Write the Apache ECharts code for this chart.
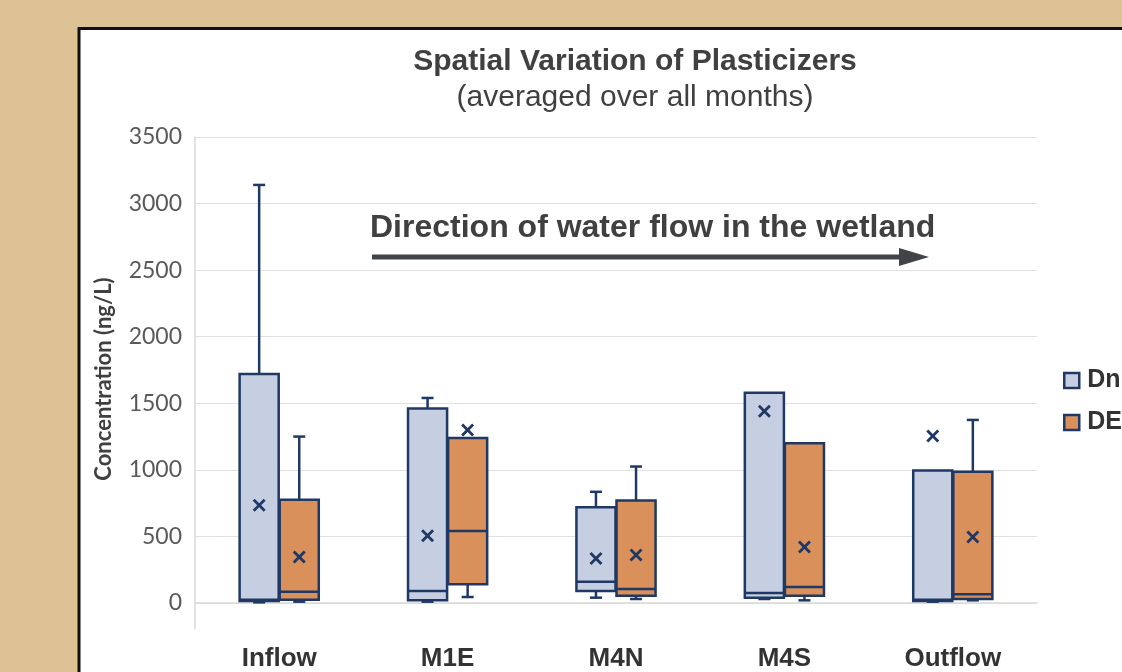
<!DOCTYPE html>
<html>
<head>
<meta charset="utf-8">
<script src="https://cdn.jsdelivr.net/npm/echarts@6/dist/echarts.min.js"></script>
<style>html,body{margin:0;padding:0;background:#dcc295;}#c{width:1122px;height:672px;}</style>
</head>
<body>
<div id="c"></div>
<script>
// ---- data ----
const categories = ['Inflow', 'M1E', 'M4N', 'M4S', 'Outflow'];
const seriesNames = ['DnBP', 'DEHP'];
// each row: [min, q1, median, q3, max, mean]
const dnbpStats = [
  [5, 15, 25, 1720, 3140, 735],
  [10, 20, 90, 1460, 1540, 505],
  [40, 90, 160, 720, 835, 335],
  [30, 40, 75, 1580, 1580, 1440],
  [10, 15, 25, 995, 995, 1255]
];
const dehpStats = [
  [10, 25, 85, 775, 1250, 345],
  [45, 140, 540, 1240, 1240, 1300],
  [30, 55, 105, 770, 1025, 360],
  [20, 55, 120, 1200, 1200, 420],
  [20, 30, 65, 985, 1375, 495]
];
const yTicks = { min: 0, max: 3500, interval: 500 };

// ---- styles ----
const NAVY = '#1f3864';
const FILLS = ['#c6cfe1', '#d9905a'];

function toRows(stats) { return stats.map((s, i) => [i].concat(s)); }

function renderBox(params, api) {
  const idx = api.value(0);
  const side = params.seriesIndex === 0 ? -1 : 1;
  const band = api.size([1, 0])[0];
  const bw = band * 0.232;
  const cx = api.coord([idx, 0])[0] + side * band * 0.119;
  const Y = v => api.coord([idx, v])[1];
  const mn = api.value(1), q1 = api.value(2), md = api.value(3), q3 = api.value(4), mx = api.value(5), mean = api.value(6);
  const line = { stroke: NAVY, lineWidth: 2.5 };
  const cap = 6;
  const ch = [];
  if (mx > q3) {
    ch.push({ type: 'line', shape: { x1: cx, y1: Y(q3), x2: cx, y2: Y(mx) }, style: line });
    ch.push({ type: 'line', shape: { x1: cx - cap, y1: Y(mx), x2: cx + cap, y2: Y(mx) }, style: line });
  }
  if (mn < q1) {
    ch.push({ type: 'line', shape: { x1: cx, y1: Y(q1), x2: cx, y2: Y(mn) }, style: line });
    ch.push({ type: 'line', shape: { x1: cx - cap, y1: Y(mn), x2: cx + cap, y2: Y(mn) }, style: line });
  }
  ch.push({ type: 'rect', shape: { x: cx - bw / 2, y: Y(q3), width: bw, height: Y(q1) - Y(q3) },
            style: { fill: FILLS[params.seriesIndex], stroke: NAVY, lineWidth: 2.5 } });
  ch.push({ type: 'line', shape: { x1: cx - bw / 2, y1: Y(md), x2: cx + bw / 2, y2: Y(md) }, style: line });
  const m = Y(mean), s = 5.5;
  const xs = { stroke: NAVY, lineWidth: 2.8 };
  ch.push({ type: 'line', shape: { x1: cx - s, y1: m - s, x2: cx + s, y2: m + s }, style: xs });
  ch.push({ type: 'line', shape: { x1: cx - s, y1: m + s, x2: cx + s, y2: m - s }, style: xs });
  return { type: 'group', children: ch };
}

const chart = echarts.init(document.getElementById('c'), null, { renderer: 'canvas' });
const gridLeft = 195, gridTop = 137, gridRight = 85, gridBottom = 69;
chart.setOption({
  backgroundColor: '#dcc295',
  animation: false,
  title: {
    text: 'Spatial Variation of Plasticizers',
    subtext: '(averaged over all months)',
    left: 630, top: 42, textAlign: 'center', itemGap: 6,
    textStyle: { fontFamily: 'Liberation Sans', fontSize: 30, fontWeight: 'bold', color: '#404040' },
    subtextStyle: { fontFamily: 'Liberation Sans', fontSize: 30, color: '#404040' }
  },
  legend: {
    orient: 'vertical', left: 1058, top: 362,
    itemWidth: 15, itemHeight: 15, itemGap: 15,
    textStyle: { fontFamily: 'Liberation Sans', fontSize: 25, fontWeight: 'bold', color: '#333', lineHeight: 27, padding: [0, 0, 0, 3] },
    data: seriesNames.map((n, i) => ({ name: n, icon: 'rect', itemStyle: { color: FILLS[i], borderColor: NAVY, borderWidth: 2.5 } }))
  },
  grid: { left: gridLeft, top: gridTop, right: gridRight, bottom: gridBottom },
  xAxis: {
    type: 'category', data: categories, offset: 26,
    axisLine: { show: true, lineStyle: { color: '#d9d9d9', width: 1.5 } },
    axisTick: { show: false },
    axisLabel: { fontFamily: 'Liberation Sans', fontSize: 26, fontWeight: 'bold', color: '#333', margin: 17 },
    splitLine: { show: false }
  },
  yAxis: {
    type: 'value', min: yTicks.min, max: yTicks.max, interval: yTicks.interval,
    name: 'Concentration (ng/L)', nameLocation: 'middle', nameGap: 80, nameRotate: 90,
    nameTextStyle: { fontFamily: 'Lato', fontSize: 22, fontWeight: 'bold', color: '#404040', padding: [0, 18, 0, 0] },
    axisLine: { show: true, lineStyle: { color: '#d9d9d9', width: 1.5 } },
    axisTick: { show: false },
    axisLabel: { fontFamily: 'Lato', fontSize: 23, color: '#595959', margin: 13, formatter: v => String(v) },
    splitLine: { lineStyle: { color: '#e0e0e0', width: 1.2 } }
  },
  graphic: [
    { type: 'rect', z: -100, shape: { x: 79, y: 28.5, width: 1200, height: 800 },
      style: { fill: '#ffffff', stroke: '#111', lineWidth: 3 } },
    { type: 'line', shape: { x1: gridLeft, y1: 672 - gridBottom, x2: gridLeft, y2: 672 - gridBottom + 26 },
      style: { stroke: '#d9d9d9', lineWidth: 1.5 } },
    { type: 'text', x: 370, y: 228,
      style: { text: 'Direction of water flow in the wetland', fontFamily: 'Liberation Sans', fontSize: 32,
               fontWeight: 'bold', fill: '#404040', textVerticalAlign: 'middle' } },
    { type: 'line', shape: { x1: 372, y1: 257, x2: 905, y2: 257 }, style: { stroke: '#404449', lineWidth: 5 } },
    { type: 'polygon', shape: { points: [[899, 248], [929, 257], [899, 266]] }, style: { fill: '#404449' } }
  ],
  series: [
    { name: seriesNames[0], type: 'custom', renderItem: renderBox, data: toRows(dnbpStats),
      encode: { x: 0, y: [1, 2, 3, 4, 5, 6] },
      itemStyle: { color: FILLS[0], borderColor: NAVY, borderWidth: 2.5 } },
    { name: seriesNames[1], type: 'custom', renderItem: renderBox, data: toRows(dehpStats),
      encode: { x: 0, y: [1, 2, 3, 4, 5, 6] },
      itemStyle: { color: FILLS[1], borderColor: NAVY, borderWidth: 2.5 } }
  ]
});
</script>
</body>
</html>
